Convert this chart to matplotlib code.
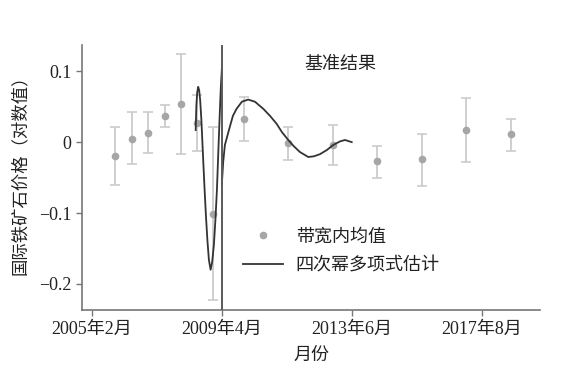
import matplotlib
matplotlib.use("Agg")
import matplotlib.pyplot as plt
from matplotlib.lines import Line2D

plt.rcParams['font.family'] = ['Liberation Serif', 'Noto Sans CJK SC']
plt.rcParams['axes.unicode_minus'] = True

# Months relative to threshold (2009年4月 = 0)
bin_month = [-41.0, -34.7, -28.5, -22.0, -15.9, -9.5, -3.3, 8.5, 25.5, 42.7, 59.7, 76.8, 93.8, 111.0]
bin_mean = [-0.019, 0.005, 0.013, 0.037, 0.054, 0.027, -0.102, 0.032, -0.001, -0.004, -0.027, -0.024, 0.017, 0.011]
bin_hi = [0.021, 0.043, 0.043, 0.052, 0.124, 0.066, 0.021, 0.063, 0.022, 0.024, -0.006, 0.011, 0.062, 0.033]
bin_lo = [-0.061, -0.031, -0.016, 0.022, -0.017, -0.013, -0.223, 0.001, -0.025, -0.032, -0.050, -0.062, -0.028, -0.012]

# Quartic fit curves
left_month = [-10.08, -9.81, -9.5, -9.12, -8.73, -8.35, -7.88, -7.19, -6.73, -6.15, -5.58,
              -5.0, -4.35, -3.73, -3.08, -2.5, -1.92, -1.35, -0.77, -0.38, 0.0]
left_fit = [0.017, 0.052, 0.070, 0.078, 0.073, 0.059, 0.031, -0.025, -0.061, -0.103, -0.138,
            -0.166, -0.180, -0.169, -0.145, -0.110, -0.068, -0.011, 0.045, 0.080, 0.104]
right_month = [0.0, 0.5, 1.15, 3.08, 4.23, 5.65, 7.69, 10.1, 12.7, 15.9, 18.5, 21.0, 23.1, 25.5,
               27.7, 30.0, 33.2, 35.4, 37.7, 40.4, 42.8, 45.4, 47.3, 49.9]
right_fit = [-0.058, -0.028, -0.004, 0.022, 0.037, 0.047, 0.057, 0.060, 0.057, 0.047, 0.037,
             0.026, 0.014, 0.003, -0.006, -0.014, -0.021, -0.020, -0.017, -0.011, -0.004,
             0.001, 0.003, 0.000]

xtick_pos = [-50, 0, 50, 100]
xtick_labels = ['2005年2月', '2009年4月', '2013年6月', '2017年8月']
ytick_pos = [0.1, 0, -0.1, -0.2]
ytick_labels = ['0.1', '0', '\u22120.1', '\u22120.2']

fig = plt.figure(figsize=(5.77, 3.75), dpi=100)
ax = fig.add_axes([0.142, 0.173, 0.794, 0.707])

yerr = [[m - l for m, l in zip(bin_mean, bin_lo)], [h - m for m, h in zip(bin_mean, bin_hi)]]
ax.errorbar(bin_month, bin_mean, yerr=yerr, fmt='none', ecolor='#cccccc', elinewidth=1.3,
            capsize=3.5, capthick=1.2, zorder=2)
ax.plot(bin_month, bin_mean, 'o', color='#a6a6a6', markersize=4.5, zorder=3)
ax.plot(left_month, left_fit, color='#333333', lw=1.3, zorder=4)
ax.plot(right_month, right_fit, color='#333333', lw=1.3, zorder=4)
ax.axvline(0, color='#5a5a5a', lw=1.4, zorder=5)

ax.set_xlim(-53.8, 122.3)
ax.set_ylim(-0.237, 0.137)
ax.set_xticks(xtick_pos)
ax.set_xticklabels(xtick_labels)
ax.set_yticks(ytick_pos)
ax.set_yticklabels(ytick_labels)
for s in ['top', 'right']:
    ax.spines[s].set_visible(False)
for s in ['left', 'bottom']:
    ax.spines[s].set_color('#777777')
    ax.spines[s].set_linewidth(1.2)
ax.tick_params(axis='both', colors='#777777', labelcolor='#222222', labelsize=13,
               length=4, width=1.0, direction='out')

ax.set_xlabel('月份', fontsize=13, color='#222222', labelpad=7)
ax.set_ylabel('国际铁矿石价格（对数值）', fontsize=12.5, color='#222222')
ax.yaxis.set_label_coords(-0.115, 0.525)

ax.text(0.563, 0.925, '基准结果', transform=ax.transAxes, ha='center', va='center',
        fontsize=13, color='#222222')

handles = [Line2D([], [], marker='o', color='#a6a6a6', linestyle='none', markersize=4.5),
           Line2D([], [], color='#333333', lw=1.3)]
ax.legend(handles, ['带宽内均值', '四次幂多项式估计'], loc='upper left',
          bbox_to_anchor=(0.317, 0.37), frameon=False, fontsize=13, handlelength=2.2,
          handletextpad=0.7, labelspacing=0.65, labelcolor='#222222')

fig.savefig('out.png', dpi=100)
